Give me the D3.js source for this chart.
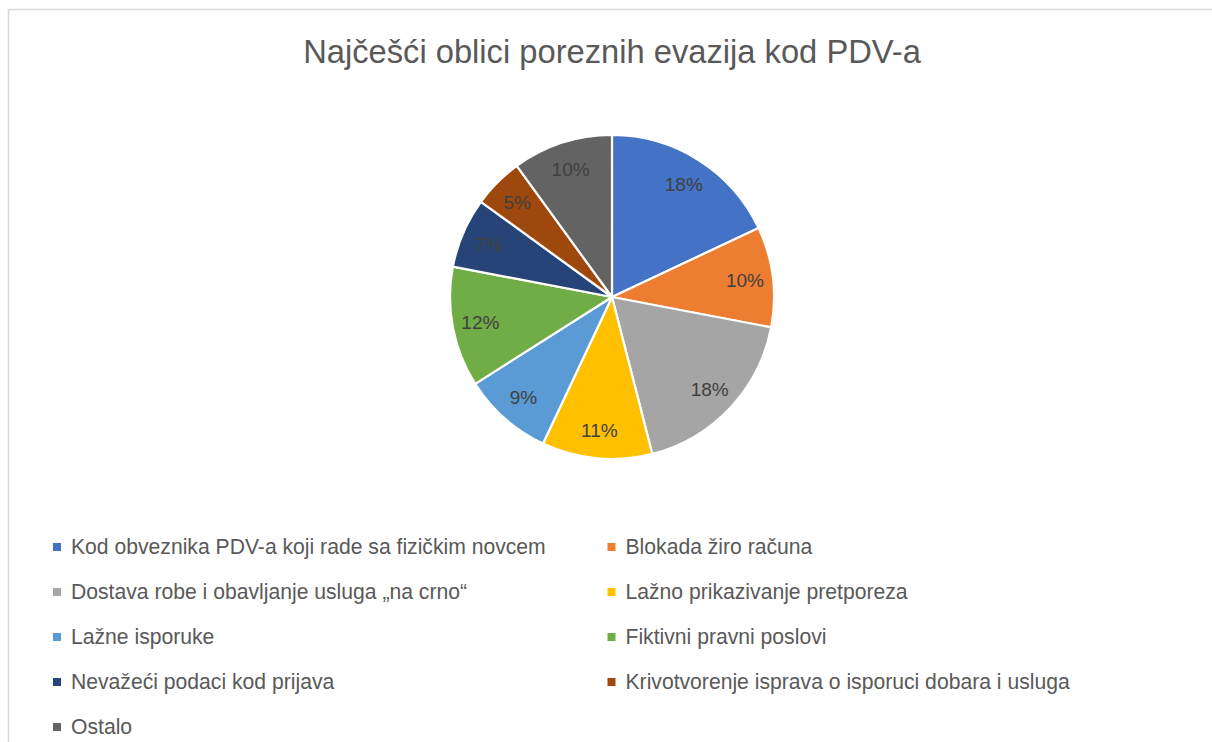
<!DOCTYPE html>
<html><head><meta charset="utf-8">
<script src="https://cdn.jsdelivr.net/npm/d3@7"></script>
<style>html,body{margin:0;padding:0;background:#fff;overflow:hidden}</style>
</head><body>
<svg id="chart" width="1212" height="742"></svg>
<script>
const title = "Najčešći oblici poreznih evazija kod PDV-a";
const categories = [
  "Kod obveznika PDV-a koji rade sa fizičkim novcem",
  "Blokada žiro računa",
  "Dostava robe i obavljanje usluga „na crno“",
  "Lažno prikazivanje pretporeza",
  "Lažne isporuke",
  "Fiktivni pravni poslovi",
  "Nevažeći podaci kod prijava",
  "Krivotvorenje isprava o isporuci dobara i usluga",
  "Ostalo"
];
const values = [18, 10, 18, 11, 9, 12, 7, 5, 10];
const colors = ["#4472C4","#ED7D31","#A5A5A5","#FFC000","#5B9BD5","#70AD47","#264478","#9E480E","#636363"];

const svg = d3.select("#chart");
const font = "'Liberation Sans', Arial, sans-serif";

// chart area border
svg.append("rect").attr("x", 8.5).attr("y", 9.5).attr("width", 1220).attr("height", 760)
  .attr("fill", "#fff").attr("stroke", "#d9d9d9").attr("stroke-width", 1.5);

// title fitted to width
const t = svg.append("text").attr("x", 612).attr("y", 63).attr("text-anchor", "middle")
  .attr("font-family", font).attr("font-size", 25).attr("fill", "#595959").text(title);
const tw = t.node().getComputedTextLength();
t.attr("font-size", 25 * 618 / tw);

const cx = 612, cy = 297, r = 162;
const data = categories.map((c, i) => ({cat: c, value: values[i], color: colors[i]}));
const pie = d3.pie().value(d => d.value).sort(null);
const arc = d3.arc().innerRadius(0).outerRadius(r);
const labelArc = d3.arc().innerRadius(134).outerRadius(134);
const total = d3.sum(values);

const g = svg.append("g").attr("transform", `translate(${cx},${cy})`);
const arcs = pie(data);
g.selectAll("path").data(arcs).join("path")
  .attr("d", arc).attr("fill", d => d.data.color)
  .attr("stroke", "#fff").attr("stroke-width", 2.2).attr("stroke-linejoin", "round");
g.selectAll("text").data(arcs).join("text")
  .attr("transform", d => `translate(${labelArc.centroid(d)})`)
  .attr("text-anchor", "middle").attr("dy", "0.36em")
  .attr("font-family", font).attr("font-size", 19).attr("fill", "#404040")
  .text(d => Math.round(d.data.value / total * 100) + "%");

// legend
const colX = [53, 607.5];
const rowY0 = 547, rowStep = 45;
const leg = svg.append("g");
const items = leg.selectAll("g").data(data).join("g")
  .attr("transform", (d, i) => `translate(${colX[i % 2]},${rowY0 + Math.floor(i / 2) * rowStep})`);
items.append("rect").attr("x", 0).attr("y", -4).attr("width", 8).attr("height", 8).attr("fill", d => d.color);
const lt = items.append("text").attr("x", 18).attr("y", 0).attr("dy", "0.35em")
  .attr("font-family", font).attr("font-size", 18).attr("fill", "#595959").text(d => d.cat);
const w0 = lt.nodes()[0].getComputedTextLength();
lt.attr("font-size", 18 * 475 / w0);
</script>
</body></html>
